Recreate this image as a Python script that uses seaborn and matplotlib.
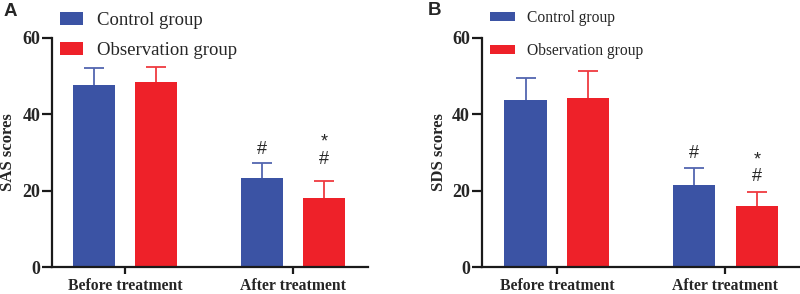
import numpy as np
import pandas as pd
import matplotlib
matplotlib.use("Agg")
import matplotlib.pyplot as plt
import seaborn as sns

# ---- data ----
times = ["Before treatment", "After treatment"]
groups = ["Control group", "Observation group"]
sas_control = [47.8, 23.2]
sas_observation = [48.4, 18.2]
sas_control_sd = [4.4, 4.0]
sas_observation_sd = [4.0, 4.4]
sds_control = [43.7, 21.4]
sds_observation = [44.2, 15.9]
sds_control_sd = [5.8, 4.6]
sds_observation_sd = [7.1, 3.7]
yticks = [0, 20, 40, 60]

BLUE = "#3B53A4"
RED = "#EE2129"
BLUE_ERR = "#5366B0"
RED_ERR = "#EF3A40"

sns.set_style("ticks")
plt.rcParams["font.family"] = ["Liberation Serif", "DejaVu Serif"]

fig = plt.figure(figsize=(8.0, 2.94), dpi=100)


def make_df(c, o):
    rows = []
    for t, v in zip(times, c):
        rows.append((t, groups[0], v))
    for t, v in zip(times, o):
        rows.append((t, groups[1], v))
    return pd.DataFrame(rows, columns=["time", "group", "score"])


def panel(rect, xlim, c, o, csd, osd, ylabel, letter, letter_xy,
          leg_anchor, leg_fs, leg_hl, leg_hh, leg_ls, ann, ylabel_x):
    ax = fig.add_axes(rect)
    df = make_df(c, o)
    sns.barplot(data=df, x="time", y="score", hue="group", order=times,
                hue_order=groups, palette=[BLUE, RED], errorbar=None,
                width=0.744, gap=0.328, saturation=1, ax=ax, zorder=2,
                linewidth=0)
    for cont, sd, ec in zip(ax.containers, [csd, osd], [BLUE_ERR, RED_ERR]):
        xs = [p.get_x() + p.get_width() / 2 for p in cont]
        ys = [p.get_height() for p in cont]
        eb = ax.errorbar(xs, ys, yerr=[np.zeros(len(sd)), sd], fmt="none",
                         ecolor=ec, elinewidth=1.3, capsize=7.5,
                         capthick=1.3, zorder=1)
        caps = eb[1]
        if len(caps) == 2:
            caps[0].set_visible(False)
    ax.set_xlim(*xlim)
    ax.set_ylim(0, 60)
    ax.set_yticks(yticks)
    ax.set_xlabel("")
    ax.set_ylabel(ylabel, fontsize=12, fontweight="bold")
    ax.yaxis.set_label_coords(ylabel_x, 0.5)
    sns.despine(ax=ax)
    for s in ["left", "bottom"]:
        ax.spines[s].set_linewidth(1.6)
        ax.spines[s].set_color("#1a1a1a")
    ax.tick_params(axis="y", length=7, width=1.6, pad=1.5, labelsize=13,
                   color="#1a1a1a")
    ax.tick_params(axis="x", length=5, width=1.6, pad=3, labelsize=11.3,
                   color="#1a1a1a")
    for lab in ax.get_xticklabels() + ax.get_yticklabels():
        lab.set_fontweight("bold")
    handles, labels = ax.get_legend_handles_labels()
    ax.legend(handles, labels, loc="upper left", bbox_to_anchor=leg_anchor,
              bbox_transform=fig.transFigure, frameon=False, borderpad=0,
              borderaxespad=0, fontsize=leg_fs, handlelength=leg_hl,
              handleheight=leg_hh, handletextpad=0.75, labelspacing=leg_ls)
    for (xi, yv, txt) in ann:
        ax.text(xi, yv, txt, ha="center", va="center", fontsize=13,
                linespacing=1.0, multialignment="center",
                fontfamily=["Liberation Sans", "DejaVu Sans"])
    fig.text(letter_xy[0], letter_xy[1], letter, fontsize=13.5,
             fontweight="bold", ha="left", va="top",
             fontfamily=["Liberation Sans", "DejaVu Sans"])
    return ax


H = 229 / 294
B = 1 - 267 / 294
axA = panel([52 / 800, B, (368 - 52) / 800, H], (-0.435, 1.446),
            sas_control, sas_observation, sas_control_sd, sas_observation_sd,
            "SAS scores", "A", (0.005, 1 - 3 / 294),
            (60 / 800, 1 - 12 / 294), 13.5, 1.23, 0.64, 0.7,
            [(1 - 0.186, 30.7, "#"), (1 + 0.186, 30.4, "*\n#")], -0.114)
axB = panel([481.7 / 800, B, (799 - 481.7) / 800, H], (-0.446, 1.436),
            sds_control, sds_observation, sds_control_sd, sds_observation_sd,
            "SDS scores", "B", (428 / 800, 1 - 2 / 294),
            (490 / 800, 1 - 10 / 294), 11.2, 1.6, 0.58, 1.1,
            [(1 - 0.186, 29.8, "#"), (1 + 0.186, 25.9, "*\n#")], -0.11)

fig.savefig("out.png", dpi=100)
